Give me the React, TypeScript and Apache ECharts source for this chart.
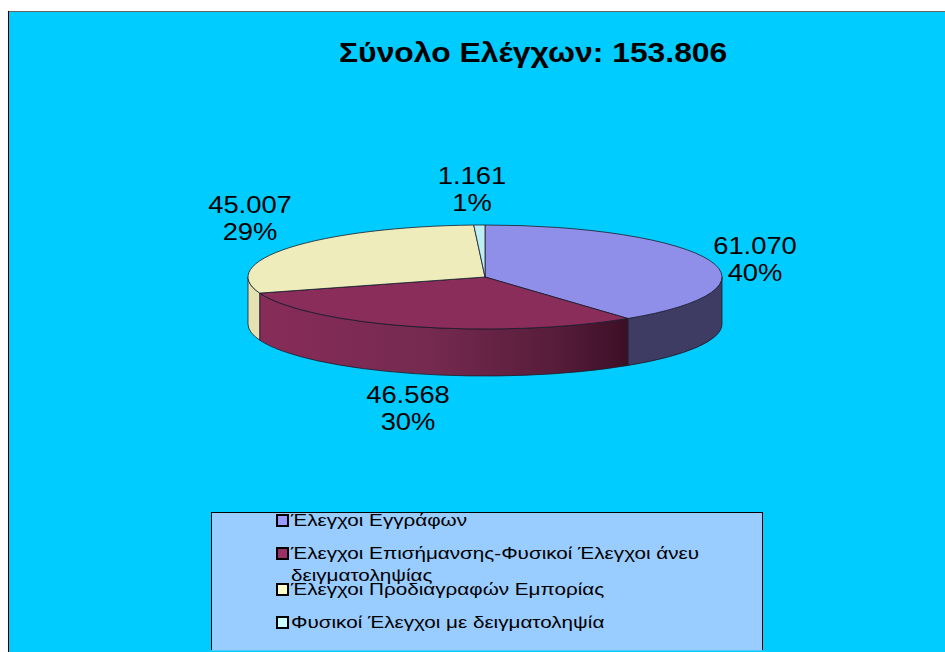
import React, { useEffect, useRef } from "react";
import * as echarts from "echarts";

const titleText = "Σύνολο Ελέγχων: 153.806";
const categories = [
  "Έλεγχοι Εγγράφων",
  "Έλεγχοι Επισήμανσης-Φυσικοί Έλεγχοι άνευ\nδειγματοληψίας",
  "Έλεγχοι Προδιαγραφών Εμπορίας",
  "Φυσικοί Έλεγχοι με δειγματοληψία",
];
const values = [61070, 46568, 45007, 1161];
const valueLabels = ["61.070", "46.568", "45.007", "1.161"];
const topColors = ["#8f8fea", "#8a2d5a", "#eeecba", "#bdeef2"];
const legendColors = ["#9999ff", "#993366", "#ffffcc", "#ccffff"];

const FONT = "'Liberation Sans', Arial, sans-serif";
const CX = 485, CY = 277, RX = 237, RY = 52, DEPTH = 47;
const labelCenters = [[755, 259], [408, 408], [250, 218], [472, 189]];
const legendRows = [520, 553, 589, 622];

const total = values.reduce((a, b) => a + b, 0);
const startAngles = values.map((_, i) => values.slice(0, i).reduce((a, b) => a + b, 0) / total * Math.PI * 2);
const pt = (a: number, dy = 0) => [CX + RX * Math.sin(a), CY - RY * Math.cos(a) + dy];

function wallFill(i: number): any {
  if (i === 0) return "#3e3c62";
  if (i === 1) return new echarts.graphic.LinearGradient(0, 0, 1, 0, [
    { offset: 0, color: "#872c59" },
    { offset: 0.45, color: "#762a50" },
    { offset: 0.8, color: "#571d3a" },
    { offset: 1, color: "#3c0f26" },
  ]);
  if (i === 2) return "#e4e2b2";
  return "#a9d3d6";
}

function renderItem(params: any, api: any) {
  const i = params.dataIndex;
  const value = api.value(0);
  const a0 = startAngles[i];
  const a1 = a0 + (value / total) * Math.PI * 2;
  const children: any[] = [];
  const w0 = Math.max(a0, Math.PI / 2);
  const w1 = Math.min(a1, (Math.PI * 3) / 2);
  if (w1 > w0) {
    const [x0, y0] = pt(w0);
    const [x1, y1] = pt(w1);
    children.push({
      type: "path",
      shape: {
        pathData: `M${x0} ${y0}A${RX} ${RY} 0 0 1 ${x1} ${y1}L${x1} ${y1 + DEPTH}A${RX} ${RY} 0 0 0 ${x0} ${y0 + DEPTH}Z`,
      },
      style: { fill: wallFill(i), stroke: "#1a1a2a", lineWidth: 0.8 },
    });
  }
  const [sx, sy] = pt(a0);
  const [ex, ey] = pt(a1);
  const large = a1 - a0 > Math.PI ? 1 : 0;
  children.push({
    type: "path",
    shape: { pathData: `M${CX} ${CY}L${sx} ${sy}A${RX} ${RY} 0 ${large} 1 ${ex} ${ey}Z` },
    style: { fill: topColors[i], stroke: "#1a1a2a", lineWidth: 0.8 },
  });
  const pct = Math.round((value / total) * 100);
  children.push({
    type: "text",
    x: labelCenters[i][0],
    y: labelCenters[i][1],
    scaleX: 1.14,
    z2: 10,
    style: {
      text: `${valueLabels[i]}\n${pct}%`,
      fontFamily: FONT,
      fontSize: 24,
      lineHeight: 27,
      fill: "#000",
      align: "center",
      verticalAlign: "middle",
    },
  });
  return { type: "group", children };
}

function legendGraphics(): any[] {
  const out: any[] = [
    { type: "rect", z: 1, shape: { x: 211.5, y: 512.5, width: 551, height: 138 }, style: { fill: "#99ccff", stroke: null } },
  ];
  categories.forEach((name, i) => {
    const y = legendRows[i];
    out.push({
      type: "rect", z: 2,
      shape: { x: 277, y: y - 5, width: 11, height: 11 },
      style: { fill: legendColors[i], stroke: "#000", lineWidth: 2 },
    });
    out.push({
      type: "text", z: 2, x: 291, y: y - 11, scaleX: 1.215,
      style: {
        text: name, fontFamily: FONT, fontSize: 17, lineHeight: 22,
        fill: "#000", align: "left", verticalAlign: "top",
      },
    });
  });
  // mask over the text that the legend box clips at its top edge
  out.push({ type: "rect", z: 3, shape: { x: 200, y: 500, width: 575, height: 12 }, style: { fill: "#00ccff" } });
  out.push({ type: "line", z: 4, shape: { x1: 211, y1: 512.5, x2: 763, y2: 512.5 }, style: { stroke: "#000", lineWidth: 1 } });
  out.push({ type: "line", z: 4, shape: { x1: 211.5, y1: 512, x2: 211.5, y2: 650 }, style: { stroke: "#000", lineWidth: 1 } });
  out.push({ type: "line", z: 4, shape: { x1: 762.5, y1: 512, x2: 762.5, y2: 650 }, style: { stroke: "#000", lineWidth: 1 } });
  return out;
}

export default function App() {
  const ref = useRef<HTMLDivElement>(null);
  useEffect(() => {
    const chart = echarts.init(ref.current!, undefined, { renderer: "svg" });
    chart.setOption({
      animation: false,
      backgroundColor: "#ffffff",
      graphic: [
        { type: "rect", z: -10, silent: true, shape: { x: 8, y: 11, width: 937, height: 641 }, style: { fill: "#00ccff" } },
        { type: "line", z: -9, shape: { x1: 8, y1: 11.5, x2: 945, y2: 11.5 }, style: { stroke: "#666", lineWidth: 1 } },
        { type: "line", z: -9, shape: { x1: 8.5, y1: 11, x2: 8.5, y2: 652 }, style: { stroke: "#000", lineWidth: 1 } },
        {
          type: "text", z: 5, x: 339, y: 52, scaleX: 1.18,
          style: {
            text: titleText, fontFamily: FONT, fontSize: 27, fontWeight: "bold", fill: "#000",
            align: "left", verticalAlign: "middle",
          },
        },
        ...legendGraphics(),
      ],
      series: [
        {
          type: "custom",
          coordinateSystem: "none",
          renderItem,
          data: values.map((v, i) => ({ name: categories[i], value: v })),
        },
      ],
    });
    return () => chart.dispose();
  }, []);
  return <div ref={ref} style={{ position: "absolute", left: 0, top: 0, width: 945, height: 652 }} />;
}
